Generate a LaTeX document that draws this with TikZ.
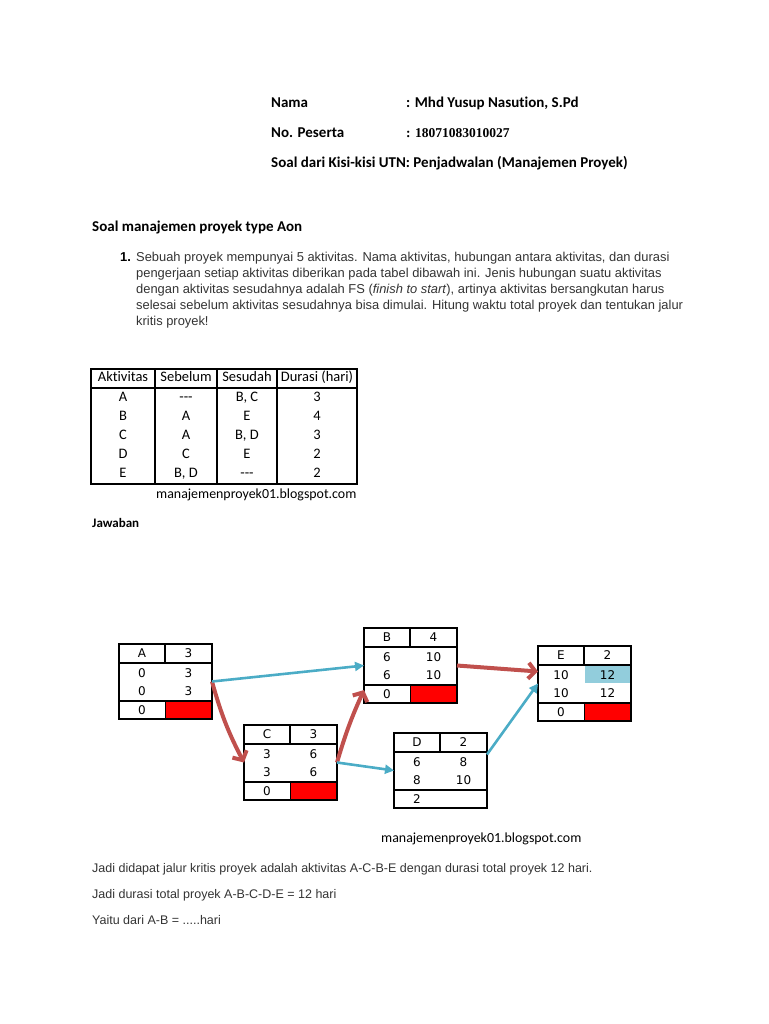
\documentclass[tikz,border=0pt]{standalone}
\usepackage{fontspec}
\setmainfont{Liberation Sans}
\newfontfamily\calibrifont{Carlito}[Ligatures={NoCommon}]
\newfontfamily\serifnum{Liberation Serif}
\newfontfamily\boxfont{DejaVu Sans}
\usetikzlibrary{arrows.meta,calc,matrix,backgrounds}

\definecolor{critred}{HTML}{C0504D}
\definecolor{flowblue}{HTML}{4BACC6}
\definecolor{efblue}{HTML}{92CDDC}
\definecolor{slackred}{HTML}{FF0000}
\definecolor{bodygray}{HTML}{333333}

\tikzset{
  headtext/.style={anchor=base west, inner sep=0pt, font=\calibrifont\bfseries\fontsize{15}{18}\selectfont},
  bodytext/.style={anchor=base west, inner sep=0pt, text=bodygray, font=\fontsize{12.5}{16}\selectfont},
  blogtext/.style={anchor=base west, inner sep=0pt, font=\calibrifont\fontsize{13.9}{16}\selectfont},
  boxframe/.style={draw, line width=1.8pt, anchor=north west, inner sep=0pt, outer sep=0pt,
    minimum width=93pt, minimum height=75pt},
  cellline/.style={line width=1.6pt},
  boxtext/.style={inner sep=0pt, font=\boxfont\fontsize{12}{14}\selectfont},
  tabline/.style={line width=1.8pt},
  critarrow/.style={draw=critred, line width=4pt, -{Straight Barb[length=7pt,width=16pt]}},
  flowarrow/.style={draw=flowblue, line width=2.6pt, -{Triangle[length=9pt,width=9pt]}}
}

% one activity box: name, top-left, label, duration, ES, EF, LS, LF, slack
\newcommand{\aonbox}[9]{%
  \begin{scope}[shift={(#2)}]
    \node[boxframe] (#1) at (0,0) {};
    \draw[cellline] (0,0) rectangle (46,19) (46,0) rectangle (93,19);
    \draw[cellline] (0,57) -- (93,57);
    \node[boxtext] (#1-lab) at (23,9.5) {#3};
    \node[boxtext] (#1-dur) at (69.5,9.5) {#4};
    \node[boxtext] (#1-es) at (23,29) {#5};
    \node[boxtext] (#1-ef) at (69.5,29) {#6};
    \node[boxtext] (#1-ls) at (23,47) {#7};
    \node[boxtext] (#1-lf) at (69.5,47) {#8};
    \node[boxtext] (#1-sl) at (23,66) {#9};
  \end{scope}}

% red slack cell at the bottom right of a box
\newcommand{\slackcell}[1]{%
  \begin{scope}[on background layer]
    \fill[slackred] (#1.south) rectangle ($(#1.south east)+(0,-18)$);
  \end{scope}
  \draw[cellline] ($(#1.south)+(0,-18)$) -- (#1.south);}

\begin{document}
\begin{tikzpicture}[x=1pt,y=-1pt]
\useasboundingbox (0,0) rectangle (768,1024);

% header
\node[headtext] (nama) at (271,108) {Nama};
\node[headtext] (namaval) at (406,108) {: Mhd Yusup Nasution, S.Pd};
\node[headtext] (peserta) at (271,138) {No. Peserta};
\node[headtext, font=\serifnum\bfseries\fontsize{13.5}{17}\selectfont] (pesertaval) at (406,138) {: 18071083010027};
\node[headtext] (soalutn) at (271,168) {Soal dari Kisi-kisi UTN: Penjadwalan (Manajemen Proyek)};

\node[headtext] (soalaon) at (92,232) {Soal manajemen proyek type Aon};
\node[bodytext, text=black, font=\bfseries\fontsize{12.9}{16}\selectfont] (nomor) at (120,261) {1.};
\node[bodytext, align=left, font=\fontsize{12.9}{16}\selectfont] (soal) at (136,325) {Sebuah proyek mempunyai 5 aktivitas. Nama aktivitas, hubungan antara aktivitas, dan durasi\\
pengerjaan setiap aktivitas diberikan pada tabel dibawah ini. Jenis hubungan suatu aktivitas\\
dengan aktivitas sesudahnya adalah FS (\textit{finish to start}), artinya aktivitas bersangkutan harus\\
selesai sebelum aktivitas sesudahnya bisa dimulai. Hitung waktu total proyek dan tentukan jalur\\
kritis proyek!};

% table
\matrix (tab) [matrix of nodes, anchor=north west, inner sep=0pt, outer sep=0pt, column sep=0pt, row sep=0pt,
  nodes={inner sep=0pt, anchor=center, minimum height=19.2pt, text height=10pt, text depth=3.5pt,
    font=\calibrifont\fontsize{14.5}{17}\selectfont},
  column 1/.style={nodes={minimum width=64pt}}, column 2/.style={nodes={minimum width=62pt}},
  column 3/.style={nodes={minimum width=60pt}}, column 4/.style={nodes={minimum width=80pt}}]
  at (91,369) {
  Aktivitas & Sebelum & Sesudah & Durasi (hari) \\
  A & {-}{-}{-} & B, C & 3 \\
  B & A & E & 4 \\
  C & A & B, D & 3 \\
  D & C & E & 2 \\
  E & B, D & {-}{-}{-} & 2 \\
};
\draw[tabline] (tab.north west) rectangle (tab.south east);
\draw[tabline] (tab-1-1.south west) -- (tab-1-4.south east);
\draw[tabline] (tab-1-1.north east) -- (tab-6-1.south east);
\draw[tabline] (tab-1-2.north east) -- (tab-6-2.south east);
\draw[tabline] (tab-1-3.north east) -- (tab-6-3.south east);
\node[blogtext] (blog1) at (156,498) {manajemenproyek01.blogspot.com};

\node[headtext, font=\calibrifont\bfseries\fontsize{13}{16}\selectfont] (jawaban) at (92,527) {Jawaban};

% network
\aonbox{A}{119,644}{A}{3}{0}{3}{0}{3}{0}
\aonbox{B}{364,628}{B}{4}{6}{10}{6}{10}{0}
\aonbox{C}{244,725}{C}{3}{3}{6}{3}{6}{0}
\aonbox{D}{394,733}{D}{2}{6}{8}{8}{10}{2}
\aonbox{E}{538,646}{E}{2}{10}{12}{10}{12}{0}
\slackcell{A}
\slackcell{B}
\slackcell{C}
\slackcell{E}
\begin{scope}[on background layer]
  \fill[efblue] ($(E.north)+(0,19)$) rectangle ($(E.north east)+(0,37)$);
\end{scope}

\coordinate (B-in) at ($(B.south west)+(0,-13)$);
\coordinate (E-in) at ($(E.west)+(0,-12)$);
\coordinate (D-out) at ($(D.east)+(0,-16)$);

\draw[critarrow] (A.east) to[bend right=6] (C.west);
\draw[flowarrow] (A.east) -- (B.west);
\draw[critarrow] (C.east) to[bend left=4] (B-in);
\draw[flowarrow] (C.east) -- (D.west);
\draw[critarrow] (B.east) -- (E-in);
\draw[flowarrow] (D-out) -- (E.west);

\node[blogtext] (blog2) at (381,842) {manajemenproyek01.blogspot.com};

% answer
\node[bodytext] (jadi1) at (92,872) {Jadi didapat jalur kritis proyek adalah aktivitas A-C-B-E dengan durasi total proyek 12 hari.};
\node[bodytext] (jadi2) at (92,898) {Jadi durasi total proyek A-B-C-D-E = 12 hari};
\node[bodytext] (jadi3) at (92,924) {Yaitu dari A-B = .....hari};
\end{tikzpicture}
\end{document}
